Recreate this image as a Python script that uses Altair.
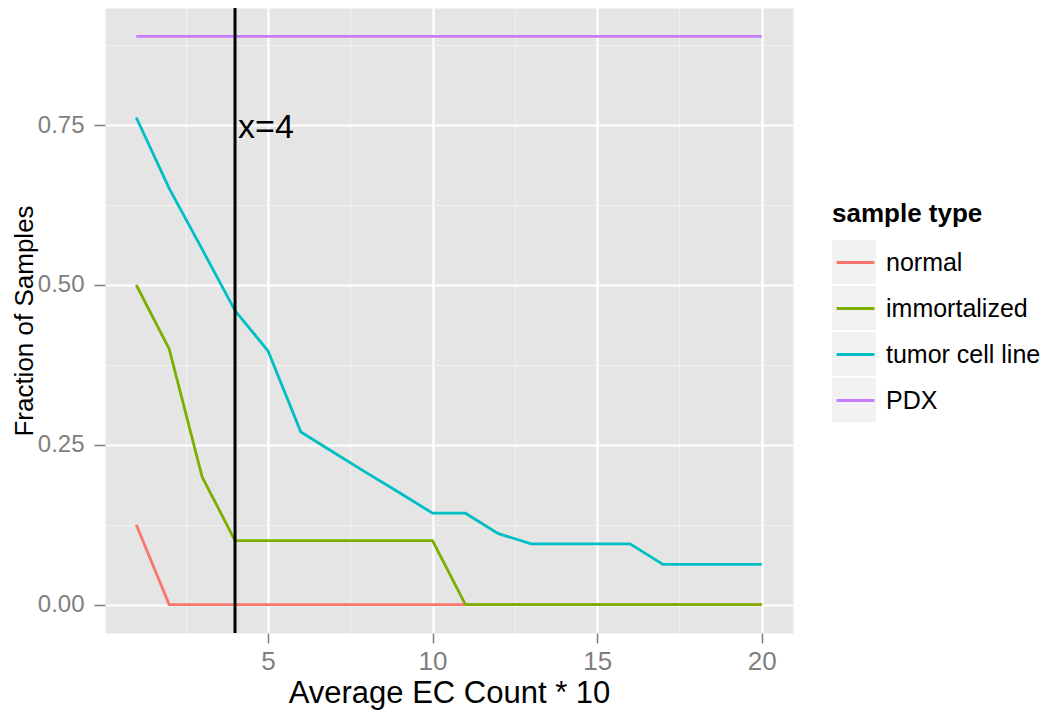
import altair as alt
import pandas as pd

# ---- data ----
x_vals = [1, 2, 3, 4, 5, 6, 7, 8, 9, 10, 11, 12, 13, 14, 15, 16, 17, 18, 19, 20]
normal = [0.125, 0.0, 0.0, 0.0, 0.0, 0.0, 0.0, 0.0, 0.0, 0.0,
          0.0, 0.0, 0.0, 0.0, 0.0, 0.0, 0.0, 0.0, 0.0, 0.0]
immortalized = [0.5, 0.4, 0.2, 0.1, 0.1, 0.1, 0.1, 0.1, 0.1, 0.1,
                0.0, 0.0, 0.0, 0.0, 0.0, 0.0, 0.0, 0.0, 0.0, 0.0]
tumor = [0.762, 0.651, 0.556, 0.460, 0.397, 0.270, 0.238, 0.206, 0.175, 0.143,
         0.143, 0.111, 0.095, 0.095, 0.095, 0.095, 0.063, 0.063, 0.063, 0.063]
pdx = [0.889, 0.889, 0.889, 0.889, 0.889, 0.889, 0.889, 0.889, 0.889, 0.889,
       0.889, 0.889, 0.889, 0.889, 0.889, 0.889, 0.889, 0.889, 0.889, 0.889]

types = ["normal", "immortalized", "tumor cell line", "PDX"]
colors = ["#F8766D", "#7CAE00", "#00BFC4", "#C77CFF"]
key_names = ["normal key", "immortalized key", "tumor cell line key", "PDX key"]
key_fill = ["#F2F2F2", "#F2F2F2", "#F2F2F2", "#F2F2F2"]

x_ticks = [5, 10, 15, 20]
y_ticks = [0.0, 0.25, 0.5, 0.75]
x_minor = [2.5, 7.5, 12.5, 17.5]
y_minor = [0.125, 0.375, 0.625, 0.875]

vline_x = [4]
vline_label = ["x=4"]
label_y = [0.745]

rows = []
for t, k, series in zip(types, key_names, [normal, immortalized, tumor, pdx]):
    for x, v in zip(x_vals, series):
        rows.append({"x": x, "frac": v, "type": t, "key": k})
df = pd.DataFrame(rows)

FONT = "Liberation Sans"
xscale = alt.Scale(domain=[0.05, 20.95], nice=False, zero=False)
yscale = alt.Scale(domain=[-0.0444, 0.9333], nice=False, zero=False)

LX, LY = 727, 193

# background layer: minor grid + grey legend key boxes
bg = alt.Chart(df).mark_point(shape="square", filled=True, size=0, opacity=1).encode(
    x=alt.X("x:Q", scale=xscale,
            axis=alt.Axis(orient="top", values=x_minor, grid=True, gridColor="#F2F2F2",
                          gridWidth=1, labels=False, ticks=False, domain=False, title="")),
    y=alt.Y("frac:Q", scale=yscale,
            axis=alt.Axis(orient="right", values=y_minor, grid=True, gridColor="#F2F2F2",
                          gridWidth=1, labels=False, ticks=False, domain=False, title="")),
    fill=alt.Fill("key:N", scale=alt.Scale(domain=key_names, range=key_fill),
                  legend=alt.Legend(orient="none", legendX=LX, legendY=232, title=None,
                                    labelExpr="''", labelFontSize=25, labelOffset=7,
                                    symbolType="square", symbolSize=1936, symbolStrokeWidth=0,
                                    symbolOpacity=1, rowPadding=2, padding=0, zindex=0)),
)

lines = alt.Chart(df).mark_line(strokeWidth=2.8).encode(
    x=alt.X("x:Q", scale=xscale,
            axis=alt.Axis(orient="bottom", values=x_ticks, format="d", title="Average EC Count * 10",
                          grid=True, gridColor="white", gridWidth=2.2, domain=False,
                          tickColor="#7F7F7F", tickSize=10, tickWidth=1.5,
                          labelColor="#7F7F7F", labelFontSize=26, labelPadding=5, labelFont=FONT,
                          labelFlush=False,
                          titleFontSize=31, titleFontWeight="normal", titleColor="black",
                          titlePadding=4, titleFont=FONT)),
    y=alt.Y("frac:Q", scale=yscale,
            axis=alt.Axis(orient="left", values=y_ticks, format=".2f", title="Fraction of Samples",
                          grid=True, gridColor="white", gridWidth=2.2, domain=False,
                          tickColor="#7F7F7F", tickSize=11, tickWidth=1.5,
                          labelColor="#7F7F7F", labelFontSize=24, labelPadding=10, labelFont=FONT,
                          labelFlush=False,
                          titleFontSize=26, titleFontWeight="normal", titleColor="black",
                          titlePadding=0, titleFont=FONT)),
    color=alt.Color("type:N", scale=alt.Scale(domain=types, range=colors),
                    legend=alt.Legend(orient="none", legendX=LX, legendY=LY, title="sample type",
                                      titleFontSize=26, titleFontWeight="bold", titleColor="black",
                                      titlePadding=12, titleFont=FONT,
                                      labelFontSize=25, labelColor="black", labelOffset=7,
                                      labelLimit=400, labelFont=FONT,
                                      symbolType="M-0.86,0L0.86,0", symbolSize=1936,
                                      symbolStrokeWidth=2.8, rowPadding=9, padding=0, zindex=1)),
)

vdf = pd.DataFrame({"x": vline_x, "y": label_y, "label": vline_label})

vrule = alt.Chart(vdf).mark_rule(color="black", strokeWidth=3).encode(
    x=alt.X("x:Q", scale=xscale, axis=None),
)

txt = alt.Chart(vdf).mark_text(align="left", baseline="middle", dx=3, fontSize=34,
                               color="black", font=FONT).encode(
    x=alt.X("x:Q", scale=xscale, axis=None),
    y=alt.Y("y:Q", scale=yscale, axis=None),
    text="label:N",
)

chart = alt.layer(bg, lines, vrule, txt).resolve_axis(
    x="independent", y="independent"
).properties(
    width=688, height=625,
    autosize=alt.AutoSizeParams(type="none"),
    padding={"left": 97, "top": 0, "right": 249, "bottom": 77},
).configure(
    font=FONT, background="white"
).configure_view(
    fill="#E5E5E5", stroke="transparent"
)

chart.save("out.html", embed_options={"renderer": "svg", "actions": False})
